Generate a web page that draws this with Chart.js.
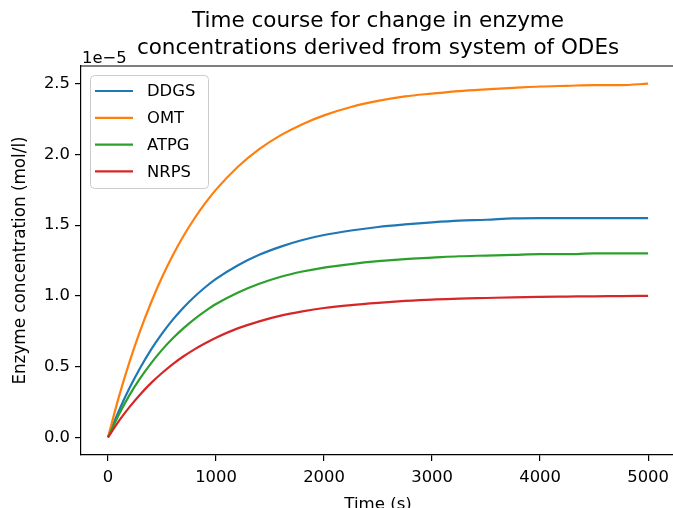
<!DOCTYPE html>
<html>
<head>
<meta charset="utf-8">
<script src="https://cdn.jsdelivr.net/npm/chart.js@4.4.1/dist/chart.umd.min.js"></script>
<style>
  html, body { margin: 0; padding: 0; overflow: hidden; background: #fff; }
  #caja { width: 676px; height: 508px; }
</style>
</head>
<body>
<div id="caja"><canvas id="myChart"></canvas></div>
<script>
// tiempos (s)
const tiempos = [0, 100, 200, 300, 400, 500, 600, 700, 800, 900, 1000, 1200, 1400, 1600, 1800, 2000, 2250, 2500, 2750, 3000, 3250, 3500, 3750, 4000, 4250, 4500, 4750, 5000]

// concentraciones en unidades de 1e-5 mol/l
const ddgs = [0, 0.186, 0.35, 0.494, 0.622, 0.733, 0.832, 0.918, 0.994, 1.061, 1.12, 1.215, 1.29, 1.348, 1.395, 1.43, 1.462, 1.487, 1.505, 1.52, 1.532, 1.538, 1.548, 1.55, 1.55, 1.55, 1.55, 1.55]
const omt = [0, 0.284, 0.535, 0.758, 0.955, 1.131, 1.287, 1.425, 1.547, 1.655, 1.751, 1.911, 2.037, 2.136, 2.214, 2.276, 2.335, 2.378, 2.41, 2.43, 2.448, 2.46, 2.47, 2.48, 2.485, 2.49, 2.49, 2.50]
const atpg = [0, 0.16, 0.30, 0.42, 0.525, 0.618, 0.70, 0.772, 0.836, 0.892, 0.942, 1.022, 1.085, 1.135, 1.172, 1.20, 1.225, 1.245, 1.26, 1.27, 1.28, 1.285, 1.29, 1.295, 1.295, 1.30, 1.30, 1.30]
const nrps = [0, 0.115, 0.215, 0.305, 0.385, 0.455, 0.518, 0.573, 0.622, 0.665, 0.704, 0.77, 0.82, 0.86, 0.89, 0.914, 0.935, 0.951, 0.964, 0.974, 0.98, 0.985, 0.99, 0.993, 0.995, 0.997, 0.998, 1.0]

const nombres = ["DDGS", "OMT", "ATPG", "NRPS"]
const colores = ["#1f77b4", "#ff7f0e", "#2ca02c", "#d62728"]

const xTicks = [0, 1000, 2000, 3000, 4000, 5000]
const yTicks = [0, 0.5, 1.0, 1.5, 2.0, 2.5]

const fuente = "'DejaVu Sans', sans-serif"

const series = [ddgs, omt, atpg, nrps]
const datasets = series.map((s, i) => ({
    label: nombres[i],
    data: s.map((v, j) => ({x: tiempos[j], y: v})),
    borderColor: colores[i],
    backgroundColor: colores[i],
    borderWidth: 2.2,
    pointRadius: 0,
    cubicInterpolationMode: 'monotone',
    order: 4 - i
}))

// leyenda, borde de arriba y el "1e-5"
const extras = {
    id: 'extras',
    afterDraw(chart) {
        const ctx = chart.ctx
        const a = chart.chartArea
        ctx.save()
        ctx.strokeStyle = '#000'
        ctx.lineWidth = 1.2
        ctx.beginPath()
        ctx.moveTo(a.left, a.top)
        ctx.lineTo(a.right, a.top)
        ctx.stroke()

        ctx.fillStyle = '#000'
        ctx.font = "16.4px " + fuente
        ctx.textAlign = 'left'
        ctx.textBaseline = 'alphabetic'
        ctx.fillText("1e\u22125", a.left + 1, a.top - 3)

        // caja de la leyenda
        const bx = 90, by = 75, bw = 118, bh = 113, r = 4
        ctx.fillStyle = 'rgba(255,255,255,0.8)'
        ctx.strokeStyle = '#cccccc'
        ctx.lineWidth = 1
        ctx.beginPath()
        ctx.roundRect(bx + 0.5, by + 0.5, bw, bh, r)
        ctx.fill()
        ctx.stroke()

        chart.data.datasets.forEach((d, i) => {
            const y = 91 + i * 26.8
            ctx.strokeStyle = d.borderColor
            ctx.lineWidth = 2.2
            ctx.beginPath()
            ctx.moveTo(95, y)
            ctx.lineTo(133, y)
            ctx.stroke()
            ctx.fillStyle = '#000'
            ctx.textBaseline = 'middle'
            ctx.fillText(d.label, 147, y + 1)
        })
        ctx.restore()
    }
}

const ctx = document.getElementById('myChart')

new Chart(ctx, {
    type: 'line',
    data: { datasets: datasets },
    plugins: [extras],
    options: {
        responsive: true,
        maintainAspectRatio: false,
        animation: false,
        layout: { padding: 0 },
        plugins: {
            legend: { display: false },
            tooltip: { enabled: false },
            title: {
                display: true,
                fullSize: false,
                text: ["Time course for change in enzyme", "concentrations derived from system of ODEs"],
                color: '#000',
                font: { family: fuente, size: 21.5, weight: 'normal', lineHeight: '27px' },
                padding: { top: 8, bottom: 4 }
            }
        },
        scales: {
            x: {
                type: 'linear',
                min: -250,
                max: 5250,
                afterBuildTicks: (scale) => { scale.ticks = xTicks.map(v => ({value: v})) },
                afterFit: (scale) => { scale.height = 53 },
                ticks: {
                    color: '#000',
                    padding: 7,
                    maxRotation: 0,
                    font: { family: fuente, size: 16.4 },
                    callback: (v) => String(v)
                },
                grid: { drawOnChartArea: false, drawTicks: true, tickLength: 6, color: '#000', lineWidth: 1.2 },
                border: { display: true, color: '#000', width: 1.2 },
                title: {
                    display: true,
                    text: "Time (s)",
                    color: '#000',
                    font: { family: fuente, size: 16.6 },
                    padding: { top: 0, bottom: -7 }
                }
            },
            y: {
                min: -0.125,
                max: 2.625,
                afterBuildTicks: (scale) => { scale.ticks = yTicks.map(v => ({value: v})) },
                afterFit: (scale) => { scale.width = 81 },
                ticks: {
                    color: '#000',
                    padding: 5,
                    font: { family: fuente, size: 16.4 },
                    callback: (v) => v.toFixed(1)
                },
                grid: { drawOnChartArea: false, drawTicks: true, tickLength: 6, color: '#000', lineWidth: 1.2 },
                border: { display: true, color: '#000', width: 1.2 },
                title: {
                    display: true,
                    text: "Enzyme concentration (mol/l)",
                    color: '#000',
                    font: { family: fuente, size: 16.8 },
                    padding: { top: 11, bottom: 0 }
                }
            }
        }
    }
})
</script>
</body>
</html>
